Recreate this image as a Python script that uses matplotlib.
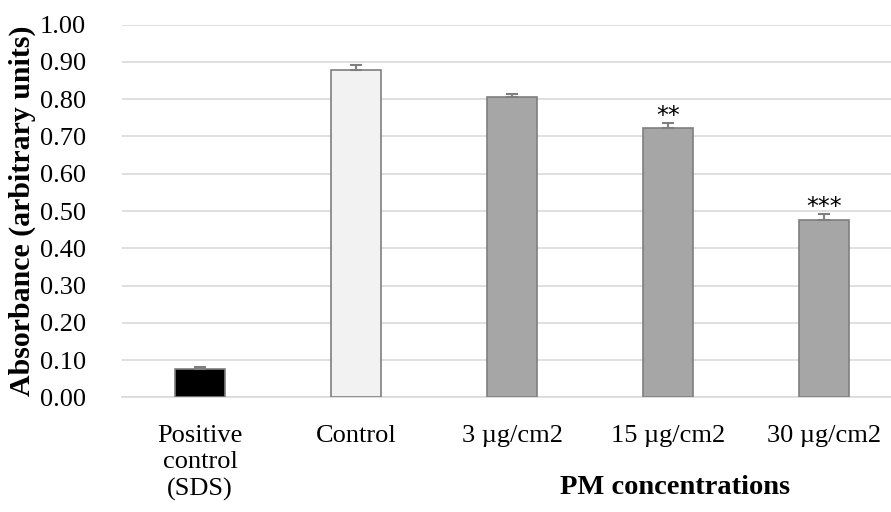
import numpy as np
import matplotlib
matplotlib.use('Agg')
import matplotlib.pyplot as plt

plt.rcParams['font.family'] = ['Liberation Serif', 'DejaVu Serif']

# 数据
categories = ['Positive\ncontrol\n(SDS)', 'Control', '3 µg/cm2', '15 µg/cm2', '30 µg/cm2']
values = [0.075, 0.879, 0.807, 0.722, 0.476]
errors = [0.005, 0.014, 0.008, 0.013, 0.017]
bar_colors = ['#000000', '#F2F2F2', '#A6A6A6', '#A6A6A6', '#A6A6A6']
stars = ['', '', '', '**', '***']
y_ticks = [0.0, 0.1, 0.2, 0.3, 0.4, 0.5, 0.6, 0.7, 0.8, 0.9, 1.0]

fig = plt.figure(figsize=(8.91, 5.12), dpi=100)
# 绘图区: x 122..902 px (右侧超出图片), y 24.7..397.3 px
ax = fig.add_axes([122 / 891, 1 - 397.3 / 512, 780 / 891, 372.6 / 512])

x = np.arange(len(categories))
ax.bar(x, values, width=0.32, color=bar_colors, edgecolor='#7F7F7F', linewidth=1.2, zorder=3)
ax.errorbar(x, values, yerr=[np.zeros(len(errors)), errors], fmt='none',
            ecolor='#7F7F7F', elinewidth=1.5, capsize=4, capthick=1.5, zorder=4)

for xi, v, e, s in zip(x, values, errors, stars):
    if s:
        ax.text(xi, v + e + 0.0, s, ha='center', va='baseline', fontsize=17, family='DejaVu Sans')

ax.set_xlim(-0.5, len(categories) - 0.5)
ax.set_ylim(0, 1.0)
ax.set_yticks(y_ticks)
ax.set_yticklabels(['%.2f' % t for t in y_ticks])
ax.yaxis.grid(True, color='#D9D9D9', linewidth=1.2, zorder=0)
ax.set_axisbelow(True)
for side in ['top', 'right', 'left']:
    ax.spines[side].set_visible(False)
ax.spines['bottom'].set_color('#D9D9D9')
ax.spines['bottom'].set_linewidth(1.2)
ax.tick_params(axis='both', length=0, labelsize=19)
ax.tick_params(axis='y', pad=26)
ax.tick_params(axis='x', pad=20)
ax.set_xticks(x)
ax.set_xticklabels(categories, linespacing=1.25)

fig.text(22 / 891, 1 - 211 / 512, 'Absorbance (arbitrary units)', rotation=90,
         ha='center', va='center', fontsize=21.5, fontweight='bold')
fig.text(675 / 891, 1 - 488 / 512, 'PM concentrations', ha='center', va='center',
         fontsize=20.5, fontweight='bold')

plt.savefig('out.png', dpi=100)
